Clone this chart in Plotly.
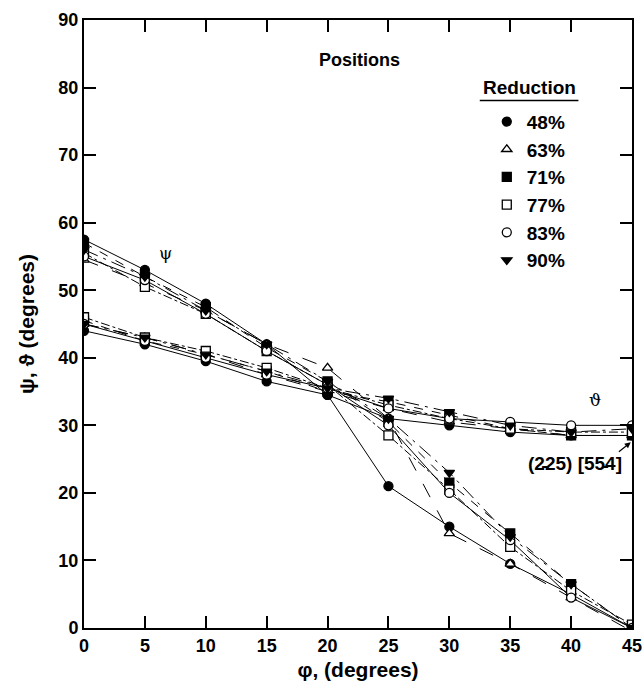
import plotly.graph_objects as go

phi = [0, 5, 10, 15, 20, 25, 30, 35, 40, 45]
reductions = ["48%", "63%", "71%", "77%", "83%", "90%"]

psi_48 = [57.5, 53.0, 48.0, 42.0, 34.5, 21.0, 15.0, 9.5, 5.0, 0.0]
psi_63 = [54.5, 51.0, 47.0, 42.0, 38.5, 31.0, 14.0, 9.5, 4.5, -0.5]
psi_71 = [57.0, 52.0, 47.5, 41.5, 36.5, 30.5, 21.5, 14.0, 6.5, 0.0]
psi_77 = [55.5, 50.5, 46.5, 41.0, 36.0, 28.5, 20.5, 12.0, 5.5, 0.5]
psi_83 = [55.0, 51.5, 46.5, 41.0, 36.0, 30.0, 20.0, 13.0, 4.5, 0.0]
psi_90 = [56.0, 52.0, 47.0, 42.0, 36.5, 31.0, 23.0, 13.5, 6.5, 0.0]

theta_48 = [44.0, 42.0, 39.5, 36.5, 34.5, 31.0, 30.0, 29.0, 28.5, 28.5]
theta_63 = [45.0, 43.0, 40.5, 37.5, 35.0, 32.5, 30.5, 29.5, 28.5, 28.5]
theta_71 = [45.5, 42.5, 40.5, 38.0, 35.0, 33.5, 31.5, 29.5, 28.5, 28.5]
theta_77 = [46.0, 43.0, 41.0, 38.5, 35.5, 33.0, 31.0, 29.5, 29.0, 29.0]
theta_83 = [45.0, 42.5, 40.0, 37.5, 35.5, 32.5, 31.0, 30.5, 30.0, 30.0]
theta_90 = [45.0, 43.0, 40.5, 38.0, 35.5, 34.0, 32.0, 30.0, 29.0, 29.5]

psi_all = [psi_48, psi_63, psi_71, psi_77, psi_83, psi_90]
theta_all = [theta_48, theta_63, theta_71, theta_77, theta_83, theta_90]

symbols = ["circle", "triangle-up", "square", "square", "circle", "triangle-down"]
fills = ["black", "white", "black", "white", "white", "black"]
dashes = ["solid", "longdash", "dash", "dashdot", "solid", "longdashdot"]

FONT = "Liberation Sans, Arial, sans-serif"

fig = go.Figure()

for i, name in enumerate(reductions):
    mk = dict(symbol=symbols[i], size=9, color=fills[i],
              line=dict(color="black", width=1.3))
    for ys in (psi_all[i], theta_all[i]):
        fig.add_trace(go.Scatter(
            x=phi, y=ys, mode="lines+markers",
            line=dict(color="black", width=1, dash=dashes[i]),
            marker=mk, showlegend=False, hoverinfo="skip"))
    # legend-only entry (marker only)
    fig.add_trace(go.Scatter(
        x=[None], y=[None], mode="markers", name=name,
        marker=mk, legendgroup=name, showlegend=True))

axis_common = dict(
    showline=True, linecolor="black", linewidth=2, mirror="ticks",
    ticks="inside", ticklen=12, tickwidth=2, tickcolor="black",
    showgrid=False, zeroline=False, ticklabeloverflow="allow",
    automargin=False,
    tickfont=dict(family=FONT, size=18, color="black", weight="bold"),
)

fig.update_xaxes(range=[0, 45], dtick=5, tick0=0,
                 title=dict(text="<b>φ, (degrees)</b>", standoff=8,
                            font=dict(family=FONT, size=21, color="black")),
                 **axis_common)
fig.update_yaxes(range=[0, 90], dtick=10, tick0=0,
                 title=dict(text="<b>ψ, ϑ (degrees)</b>", standoff=18,
                            font=dict(family=FONT, size=21, color="black")),
                 **axis_common)

fig.add_annotation(x=22.6, y=84.1, xref="x", yref="y", text="<b>Positions</b>",
                   showarrow=False, font=dict(family=FONT, size=18, color="black"))
fig.add_annotation(x=36.6, y=80.0, xref="x", yref="y", text="<b>Reduction</b>",
                   showarrow=False, font=dict(family=FONT, size=19, color="black"))
fig.add_shape(type="line", x0=32.5, x1=40.6, y0=78.1, y1=78.1, xref="x", yref="y",
              line=dict(color="black", width=1.5))
fig.add_annotation(x=6.7, y=55.5, xref="x", yref="y", text="ψ", showarrow=False,
                   font=dict(family="DejaVu Serif, serif", size=17, color="black"))
fig.add_annotation(x=42.0, y=33.7, xref="x", yref="y", text="ϑ", showarrow=False,
                   font=dict(family="DejaVu Serif, serif", size=17, color="black"))
fig.add_annotation(x=40.3, y=24.4, xref="x", yref="y",
                   text="<b>(2\u033525) [55\u03354]</b>", showarrow=False,
                   font=dict(family=FONT, size=19, color="black"))
fig.add_annotation(x=44.9, y=27.5, xref="x", yref="y", ax=43.8, ay=25.9,
                   axref="x", ayref="y", text="", showarrow=True,
                   arrowhead=2, arrowsize=1, arrowwidth=1.2, arrowcolor="black",
                   standoff=0, startstandoff=0)

fig.update_layout(
    width=644, height=698,
    margin=dict(l=84, r=12, t=20, b=70),
    plot_bgcolor="white", paper_bgcolor="white",
    showlegend=True,
    legend=dict(x=0.735, y=0.864, xanchor="left", yanchor="top",
                bgcolor="rgba(0,0,0,0)", tracegroupgap=0,
                font=dict(family=FONT, size=19, color="black", weight="bold")),
)

fig.write_html("out.html")
